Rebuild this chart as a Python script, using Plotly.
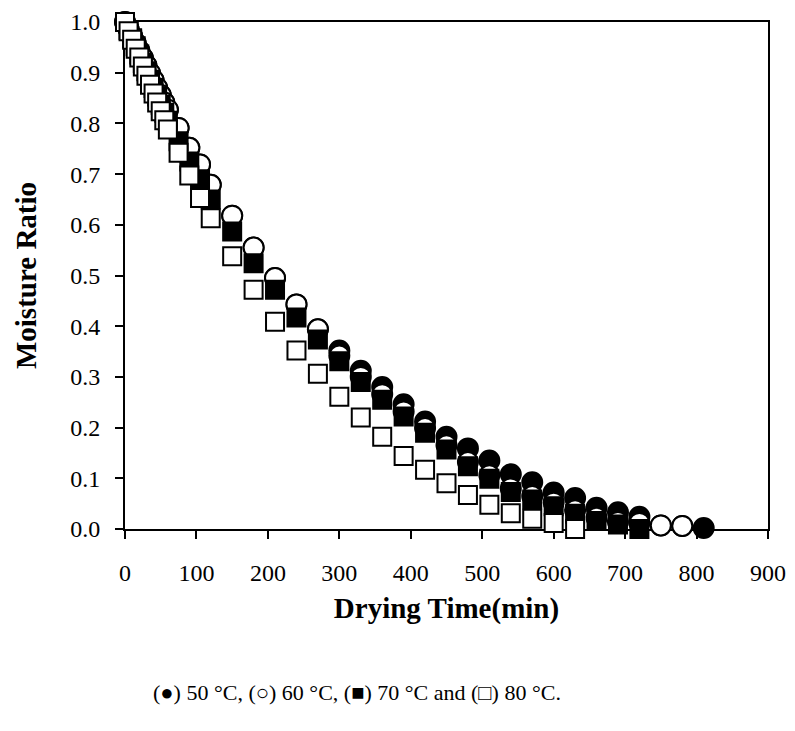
import plotly.graph_objects as go

# Drying time (min) for each series
t_50 = [0, 5, 10, 15, 20, 25, 30, 35, 40, 45, 50, 55, 60, 75, 90, 105, 120, 150, 180, 210, 240,
        270, 300, 330, 360, 390, 420, 450, 480, 510, 540, 570, 600, 630, 660, 690, 720, 750, 780, 810]
t_60 = t_50[:-1]
t_70 = t_50[:-3]
t_80 = t_50[:-6]

# Moisture ratio values
mr_50 = [1.0, 0.986, 0.972, 0.958, 0.943, 0.929, 0.914, 0.899, 0.885, 0.870, 0.856, 0.841, 0.827,
         0.791, 0.752, 0.719, 0.679, 0.618, 0.555, 0.495, 0.443, 0.394, 0.352, 0.312, 0.280,
         0.246, 0.212, 0.182, 0.159, 0.135, 0.108, 0.092, 0.072, 0.061, 0.042, 0.033, 0.024,
         0.007, 0.006, 0.002]
mr_60 = [1.0, 0.986, 0.972, 0.958, 0.943, 0.929, 0.914, 0.899, 0.885, 0.870, 0.856, 0.841, 0.827,
         0.791, 0.752, 0.719, 0.679, 0.618, 0.555, 0.495, 0.443, 0.394, 0.342, 0.300, 0.266,
         0.232, 0.199, 0.165, 0.132, 0.106, 0.080, 0.065, 0.052, 0.037, 0.022, 0.014, 0.012,
         0.007, 0.006]
mr_70 = [1.0, 0.984, 0.968, 0.952, 0.936, 0.919, 0.903, 0.886, 0.870, 0.853, 0.837, 0.821, 0.805,
         0.765, 0.725, 0.690, 0.650, 0.587, 0.524, 0.472, 0.417, 0.374, 0.331, 0.290, 0.255,
         0.222, 0.190, 0.157, 0.124, 0.099, 0.073, 0.058, 0.045, 0.030, 0.016, 0.009, 0.0]
mr_80 = [1.0, 0.982, 0.965, 0.947, 0.930, 0.912, 0.894, 0.876, 0.859, 0.841, 0.824, 0.806, 0.788,
         0.742, 0.697, 0.653, 0.613, 0.538, 0.472, 0.409, 0.352, 0.306, 0.261, 0.220, 0.182,
         0.144, 0.117, 0.090, 0.067, 0.048, 0.031, 0.020, 0.012, 0.0]

series_names = ["50 °C", "60 °C", "70 °C", "80 °C"]
x_ticks = [0, 100, 200, 300, 400, 500, 600, 700, 800, 900]
y_ticks = [0.0, 0.1, 0.2, 0.3, 0.4, 0.5, 0.6, 0.7, 0.8, 0.9, 1.0]
caption = "(●) 50 °C, (○) 60 °C, (■) 70 °C and (□) 80 °C."

FONT = "Liberation Serif"

fig = go.Figure()
styles = [
    (t_50, mr_50, "circle", "black", 20),
    (t_60, mr_60, "circle", "white", 20),
    (t_70, mr_70, "square", "black", 18),
    (t_80, mr_80, "square", "white", 18),
]
for name, (tx, ty, sym, fill, sz) in zip(series_names, styles):
    fig.add_trace(go.Scatter(
        x=tx, y=ty, mode="markers", name=name, cliponaxis=False,
        marker=dict(symbol=sym, size=sz, color=fill, line=dict(color="black", width=2)),
    ))

axis_common = dict(
    showline=True, linecolor="black", linewidth=2, mirror=True,
    ticks="outside", ticklen=8, tickwidth=2, tickcolor="black",
    showgrid=False, zeroline=False, layer="below traces",
    tickfont=dict(family=FONT, size=24, color="black"),
)

fig.update_layout(
    width=787, height=723,
    margin=dict(l=117, r=27, t=14, b=202, autoexpand=False),
    paper_bgcolor="white", plot_bgcolor="white",
    showlegend=False,
    font=dict(family=FONT, color="black"),
    xaxis=dict(range=[0, 900], tickvals=x_ticks, ticklabelstandoff=13,
               title=dict(text="<b>Drying Time(min)</b>", font=dict(family=FONT, size=29), standoff=13),
               **axis_common),
    yaxis=dict(range=[0, 1.0], tickvals=y_ticks, tickformat=".1f", ticklabelstandoff=10,
               title=dict(text="<b>Moisture Ratio</b>", font=dict(family=FONT, size=29), standoff=25),
               **axis_common),
    annotations=[dict(text=caption, xref="paper", yref="paper", x=0.361, y=-0.3225,
                      xanchor="center", yanchor="middle", showarrow=False,
                      font=dict(family=FONT, size=22, color="black"))],
)

fig.write_html("out.html")
